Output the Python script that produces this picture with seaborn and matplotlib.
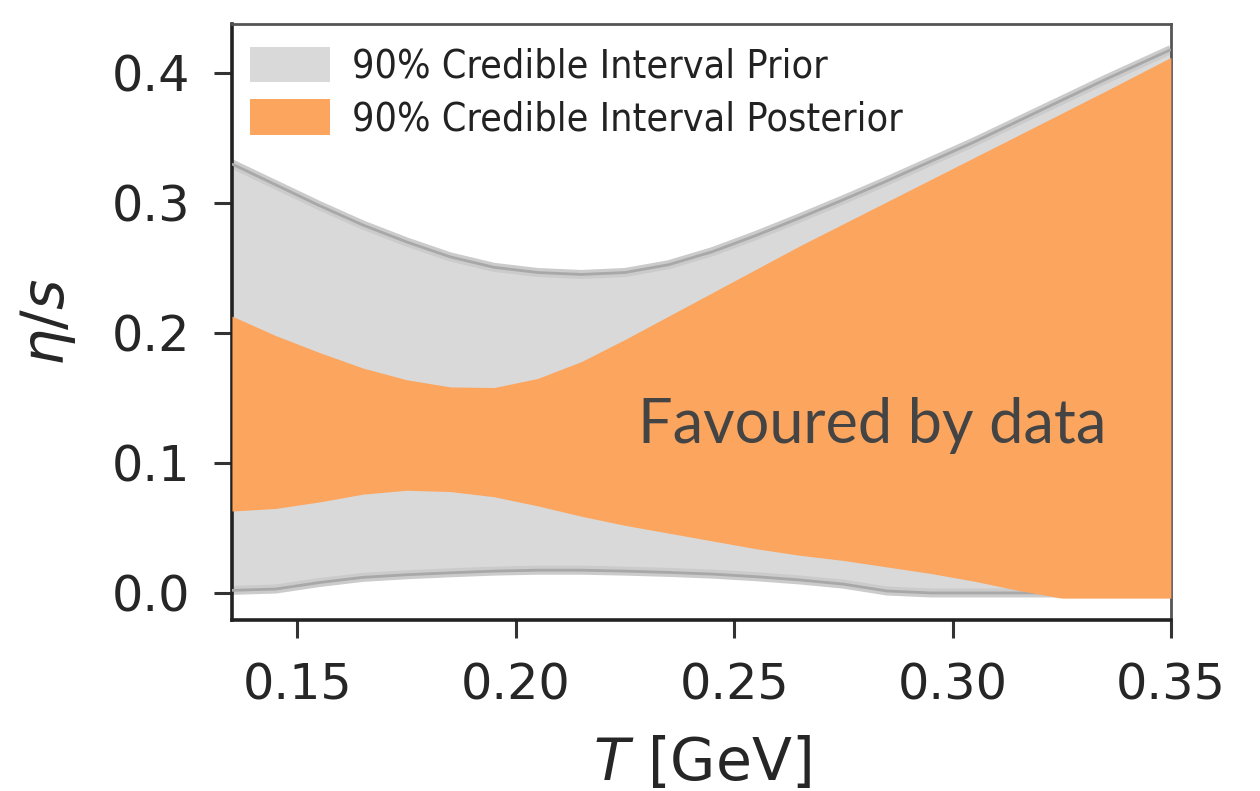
import numpy as np
import pandas as pd
import matplotlib
matplotlib.use("Agg")
import matplotlib.pyplot as plt
from matplotlib.patches import Patch
import seaborn as sns

# ---- data ----
T = [0.135, 0.145, 0.155, 0.165, 0.175, 0.185, 0.195, 0.205, 0.215, 0.225, 0.235,
     0.245, 0.255, 0.265, 0.275, 0.285, 0.295, 0.305, 0.315, 0.325, 0.335, 0.35]
prior_upper = [0.330, 0.314, 0.298, 0.283, 0.270, 0.2585, 0.2505, 0.2465, 0.245, 0.2465, 0.2525,
               0.2625, 0.275, 0.2885, 0.3025, 0.317, 0.332, 0.347, 0.363, 0.379, 0.395, 0.418]
prior_lower = [0.002, 0.003, 0.008, 0.012, 0.014, 0.0155, 0.0168, 0.0175, 0.0175, 0.0168, 0.0158,
               0.0145, 0.0125, 0.010, 0.0068, 0.0015, 0.0, 0.0, 0.0, 0.0, 0.0, 0.0]
post_upper = [0.213, 0.198, 0.185, 0.173, 0.164, 0.1585, 0.158, 0.165, 0.178, 0.195, 0.213,
              0.231, 0.249, 0.267, 0.284, 0.301, 0.318, 0.335, 0.352, 0.369, 0.386, 0.412]
post_lower = [0.063, 0.065, 0.070, 0.076, 0.079, 0.078, 0.074, 0.067, 0.059, 0.052, 0.046,
              0.040, 0.034, 0.029, 0.025, 0.020, 0.015, 0.009, 0.002, -0.004, -0.004, -0.004]

x_ticks = [0.15, 0.20, 0.25, 0.30, 0.35]
x_tick_labels = ["0.15", "0.20", "0.25", "0.30", "0.35"]
y_ticks = [0.0, 0.1, 0.2, 0.3, 0.4]
y_tick_labels = ["0.0", "0.1", "0.2", "0.3", "0.4"]
legend_labels = ["90% Credible Interval Prior", "90% Credible Interval Posterior"]
annotation = "Favoured by data"

df = pd.DataFrame({"T": T, "prior_upper": prior_upper, "prior_lower": prior_lower,
                   "post_upper": post_upper, "post_lower": post_lower})

# ---- style ----
sns.set_theme(style="ticks")
plt.rcParams["font.family"] = ["DejaVu Sans"]

GRAY_FILL = "#d9d9d9"
ORANGE = "#fca55f"

fig = plt.figure(figsize=(12.6, 7.91), dpi=100)
ax = fig.add_axes([0.1841, 0.2162, 0.7452, 0.7535])

ax.fill_between(df["T"], df["prior_lower"], df["prior_upper"], color=GRAY_FILL, lw=0, zorder=1)
for col in ["prior_upper", "prior_lower"]:
    sns.lineplot(data=df, x="T", y=col, ax=ax, color="#cbcbcb", lw=6.5, zorder=2,
                 solid_capstyle="butt")
    sns.lineplot(data=df, x="T", y=col, ax=ax, color="#a8a8a8", lw=2.0, zorder=3,
                 solid_capstyle="butt")
ax.fill_between(df["T"], df["post_lower"], df["post_upper"], color=ORANGE, lw=0, zorder=4)

ax.text(0.2279, 0.1154, annotation, fontsize=44, color="#444444",
        family=["Lato", "DejaVu Sans"], ha="left", va="baseline", zorder=6)

ax.set_xlim(0.135, 0.35)
ax.set_ylim(-0.0208, 0.4377)
ax.set_xticks(x_ticks)
ax.set_xticklabels(x_tick_labels)
ax.set_yticks(y_ticks)
ax.set_yticklabels(y_tick_labels)

ax.tick_params(axis="both", labelsize=35.5, length=13, width=2.2, pad=17,
               color="#333333", labelcolor="#262626")

ax.set_xlabel("$T$ [GeV]", fontsize=42, color="#262626")
ax.set_ylabel("$\\eta/s$", fontsize=42, color="#262626")
ax.xaxis.set_label_coords(0.50, -0.193)
ax.yaxis.set_label_coords(-0.164, 0.50)

for side in ["left", "bottom"]:
    ax.spines[side].set_linewidth(2.6)
    ax.spines[side].set_color("#222222")
for side in ["top", "right"]:
    ax.spines[side].set_linewidth(2.0)
    ax.spines[side].set_color("#555555")
    ax.spines[side].set_visible(True)

handles = [Patch(facecolor=GRAY_FILL, edgecolor="none"),
           Patch(facecolor=ORANGE, edgecolor="none")]
leg = ax.legend(handles, legend_labels, loc="upper left", bbox_to_anchor=(0.019, 0.962),
                frameon=False, borderaxespad=0, borderpad=0,
                prop={"family": "DejaVu Sans", "stretch": "condensed", "size": 28.3},
                handlelength=2.05, handleheight=1.0, labelspacing=0.35, handletextpad=0.55)
for t in leg.get_texts():
    t.set_color("#222222")
leg.set_zorder(10)

fig.savefig("out.png", dpi=100, facecolor="white")
